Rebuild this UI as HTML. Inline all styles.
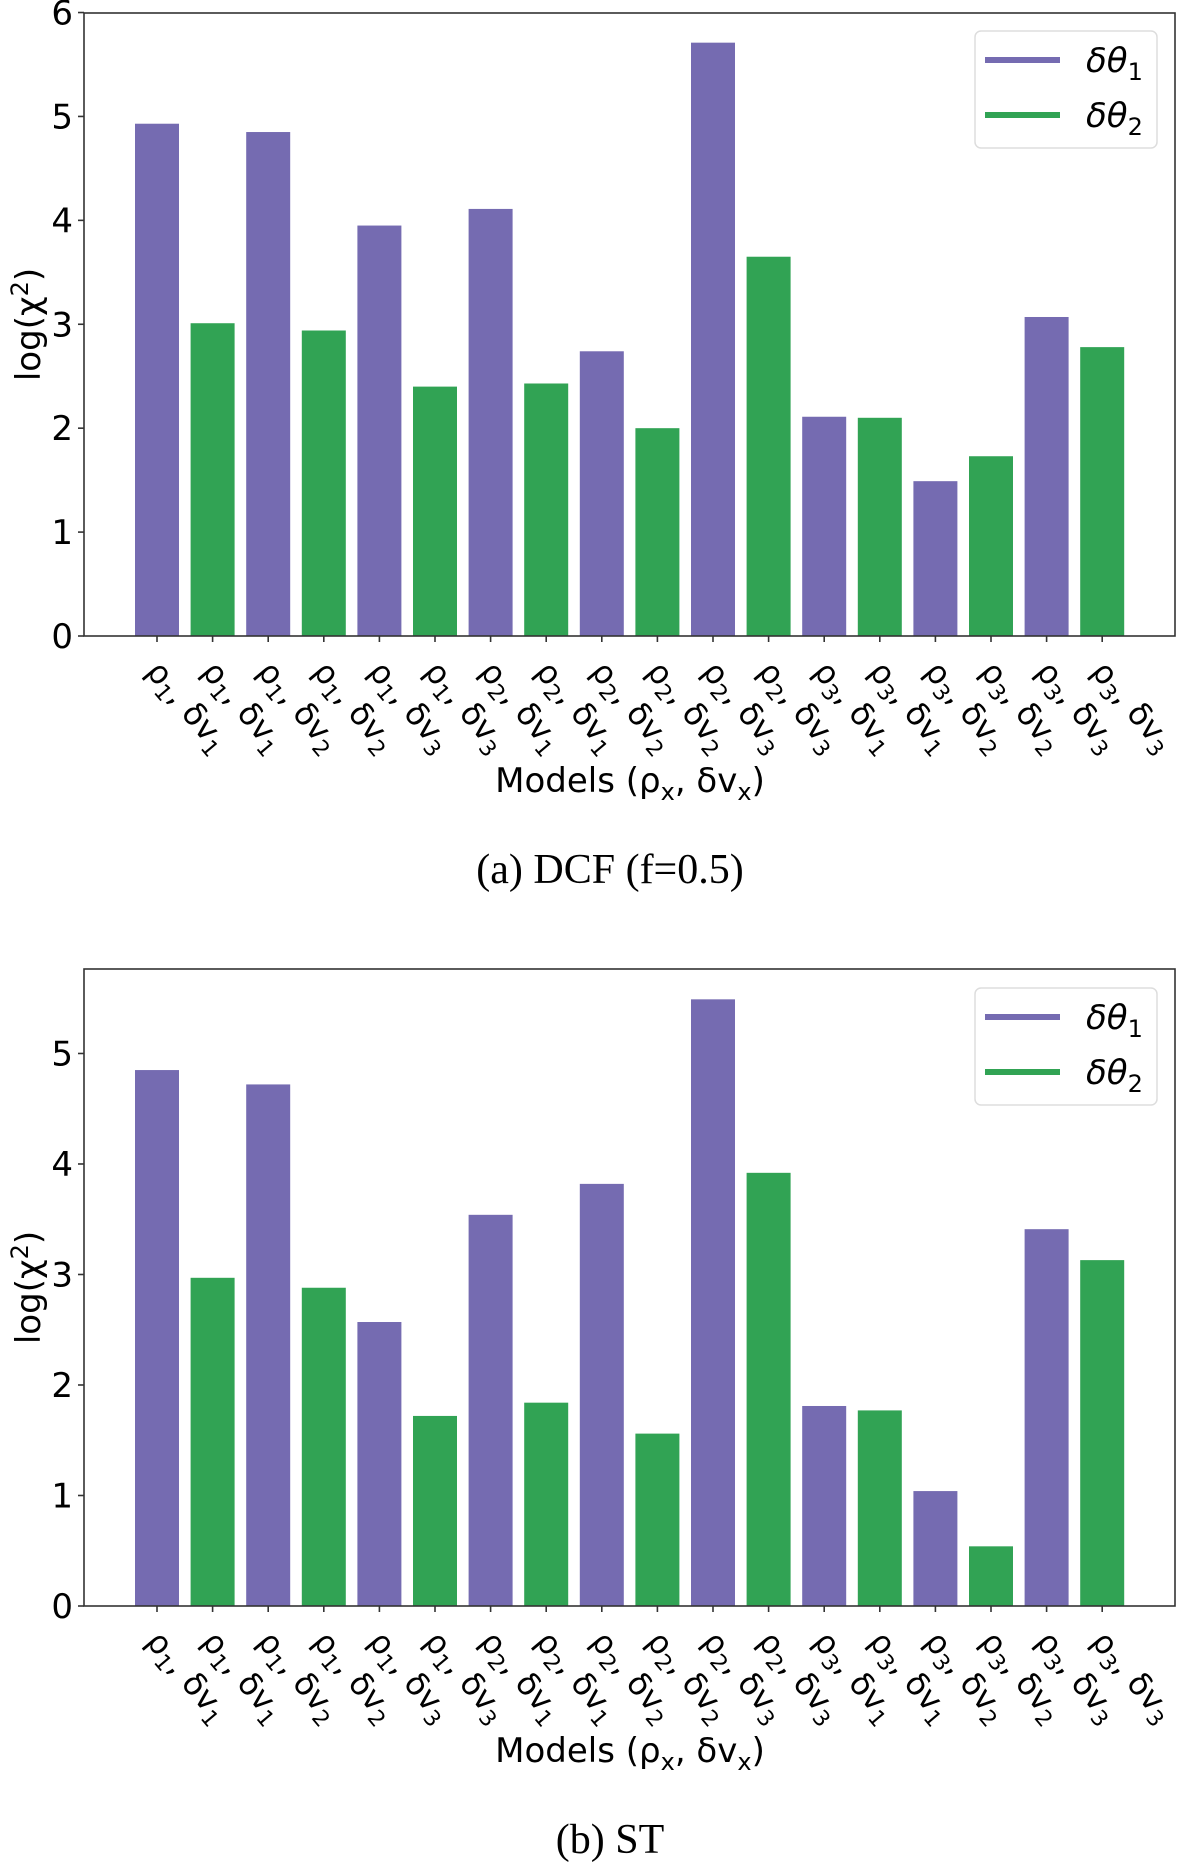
<!DOCTYPE html>
<html><head><meta charset="utf-8"><style>
html,body{margin:0;padding:0;background:#fff;}
svg{display:block;}
text{font-family:"DejaVu Sans","Liberation Sans",sans-serif;fill:#000;}
.cap{font-family:"Liberation Serif",serif;}
</style></head><body>
<svg id="fig" width="1200" height="1866" viewBox="0 0 1200 1866" xmlns="http://www.w3.org/2000/svg"></svg>
<script>
const rhoIdx = [1,1,1,1,1,1,2,2,2,2,2,2,3,3,3,3,3,3];
const dvIdx  = [1,1,2,2,3,3,1,1,2,2,3,3,1,1,2,2,3,3];
const seriesIdx = [0,1,0,1,0,1,0,1,0,1,0,1,0,1,0,1,0,1];
const dcfValues = [4.93,3.01,4.85,2.94,3.95,2.40,4.11,2.43,2.74,2.00,5.71,3.65,2.11,2.10,1.49,1.73,3.07,2.78];
const stValues  = [4.85,2.97,4.72,2.88,2.57,1.72,3.54,1.84,3.82,1.56,5.49,3.92,1.81,1.77,1.04,0.54,3.41,3.13];
const dcfTicks = [0,1,2,3,4,5,6];
const stTicks  = [0,1,2,3,4,5];
const legendLabels = ["1","2"];
const colors = ["#756bb1","#31a354"];
const NS = "http://www.w3.org/2000/svg";
const svg = document.getElementById("fig");
function mk(tag, attrs, parent){const e=document.createElementNS(NS,tag);for(const k in attrs)e.setAttribute(k,attrs[k]);(parent||svg).appendChild(e);return e;}

function chart(cfg){
  const g = mk("g",{});
  
  
  const L=84,R=1175,T=cfg.top,B=cfg.bottom;
  const vals=cfg.values;
  const ymax=Math.max(...vals)*1.05;
  const y=v=>B-(v/ymax)*(B-T);
  const x0=157, step=55.6, bw=44;
  const x=i=>x0+i*step;
  // bars
  vals.forEach((v,i)=>{
    const r=mk("rect",{x:x(i)-bw/2,y:y(v),width:bw,height:B-y(v),fill:colors[seriesIdx[i]]},g);
    
    
  });
  // frame
  const f=mk("rect",{x:L,y:T,width:R-L,height:B-T,fill:"none",stroke:"#333","stroke-width":1.6},g);
  
  
  // y ticks
  cfg.ticks.forEach(t=>{
    mk("line",{x1:L-6,x2:L,y1:y(t),y2:y(t),stroke:"#333","stroke-width":1.6},g);
    const tx=mk("text",{x:L-11,y:y(t)+12,"font-size":34,"text-anchor":"end"},g);
    tx.textContent=t;
    
    
  });
  // x ticks and labels
  vals.forEach((v,i)=>{
    mk("line",{x1:x(i),x2:x(i),y1:B,y2:B+6,stroke:"#333","stroke-width":1.6},g);
    const px=x(i)-12, py=B+36;
    const tx=mk("text",{x:px,y:py,"font-size":32,transform:`rotate(50 ${px} ${py})`},g);
    
    
    tx.innerHTML=`ρ<tspan font-size="22" dy="7">${rhoIdx[i]}</tspan><tspan dy="-7">, δv</tspan><tspan font-size="22" dy="7">${dvIdx[i]}</tspan>`;
  });
  // axis titles
  const xl=mk("text",{x:630,y:cfg.xlabelY,"font-size":34,"text-anchor":"middle"},g);
  xl.innerHTML='Models (ρ<tspan font-size="24" dy="8">x</tspan><tspan dy="-8">, δv</tspan><tspan font-size="24" dy="8">x</tspan><tspan dy="-8">)</tspan>';
  
  
  const cy=(T+B)/2;
  const yl=mk("text",{x:40,y:cy,"font-size":34,"text-anchor":"middle",transform:`rotate(-90 40 ${cy})`},g);
  yl.innerHTML='log(χ<tspan font-size="24" dy="-12">2</tspan><tspan dy="12">)</tspan>';
  
  
  // legend
  const lg=mk("g",{},g);
  
  
  const ly=cfg.legendTop;
  mk("rect",{x:975,y:ly,width:182,height:117,rx:6,fill:"#fff",stroke:"#ddd","stroke-width":1.5},lg);
  legendLabels.forEach((lab,k)=>{
    const yy=ly+29+k*55;
    mk("line",{x1:985,x2:1060,y1:yy,y2:yy,stroke:colors[k],"stroke-width":6},lg);
    const t=mk("text",{x:1086,y:yy+12,"font-size":34,"font-style":"italic"},lg);
    t.innerHTML=`δθ<tspan font-size="24" dy="8" font-style="normal">${lab}</tspan>`;
    
    
  });
  // caption
  const c=mk("text",{x:610,y:cfg.capY,"font-size":42,"text-anchor":"middle",class:"cap"},g);
  c.textContent=cfg.caption;
  
  
}
chart({name:"dcf-chart",top:13,bottom:636,values:dcfValues,ticks:dcfTicks,xlabelY:792,capY:883,legendTop:31,caption:"(a) DCF (f=0.5)"});
chart({name:"st-chart",top:969,bottom:1606,values:stValues,ticks:stTicks,xlabelY:1762,capY:1853,legendTop:988,caption:"(b) ST"});
</script>
</body></html>
